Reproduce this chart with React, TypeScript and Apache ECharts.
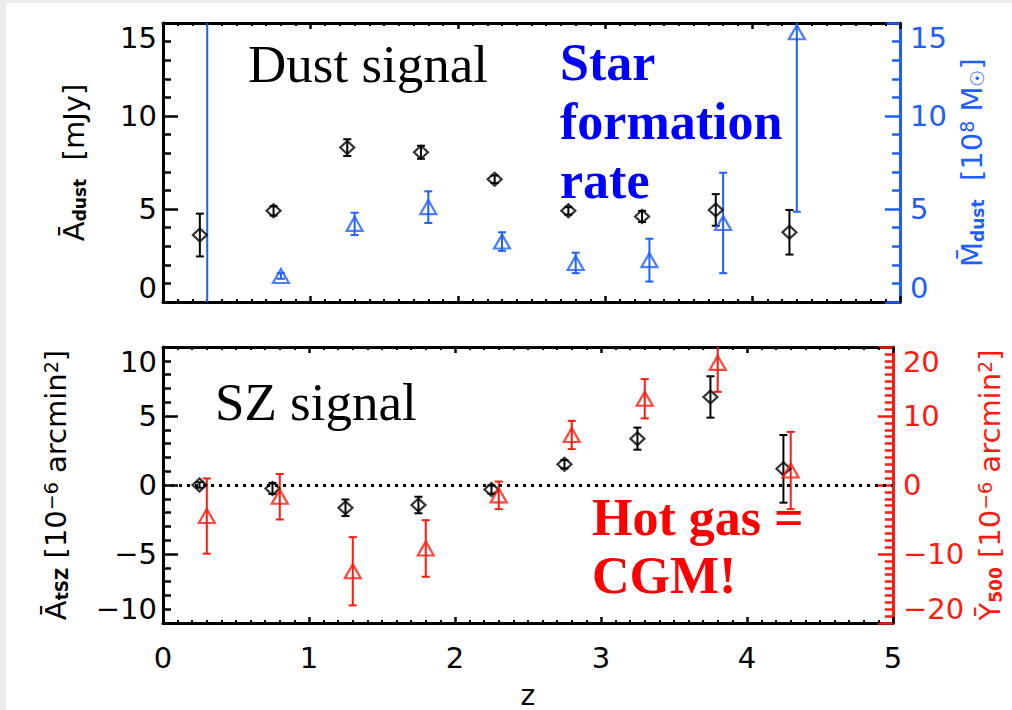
import React, { useEffect, useRef } from 'react';
import * as echarts from 'echarts';

// ---- data ----
const zBlack = [0.25, 0.75, 1.25, 1.75, 2.25, 2.75, 3.25, 3.75, 4.25];
const zColor = [0.3, 0.8, 1.3, 1.8, 2.3, 2.8, 3.3, 3.8, 4.3];

// top panel: dust amplitude [mJy] (left axis) and dust mass [1e8 Msun] (right axis)
const dustAmp = [3.6, 4.9, 8.3, 8.05, 6.6, 4.9, 4.6, 4.95, 3.75];
const dustAmpErr = [1.15, 0.25, 0.45, 0.35, 0.2, 0.2, 0.3, 0.85, 1.2];
const dustMass = [20, 1.4, 4.2, 5.1, 3.25, 2.1, 2.25, 4.25, 14.5];
const dustMassErr = [40, 0.15, 0.6, 0.85, 0.5, 0.55, 1.15, 2.7, 9.65];

// bottom panel: tSZ amplitude [1e-6 arcmin^2] (left) and Y500 [1e-6 arcmin^2] (right)
const szAmp = [0.0, -0.25, -1.65, -1.45, -0.33, 1.5, 3.36, 6.38, 1.17];
const szAmpErr = [0.2, 0.4, 0.6, 0.6, 0.3, 0.3, 0.8, 1.5, 2.45];
const y500 = [-4.5, -1.7, -12.5, -9.2, -1.5, 7.25, 12.5, 17.7, 2.1];
const y500Err = [5.45, 3.3, 4.95, 4.1, 2.0, 2.05, 2.85, 4.2, 5.6];

const xTicks = [0, 1, 2, 3, 4, 5];

const BLACK = '#000000';
const BLUE = '#1f5fff';
const RED = '#ff1a10';
const SANS = '"DejaVu Sans", sans-serif';

const fmt = (v: number) => (v < 0 ? '\u2212' + String(-v) : String(v));

function errorBar(color: string) {
  return (params: any, api: any) => {
    const x = api.value(0);
    const y = api.value(1);
    const e = api.value(2);
    const cs = params.coordSys;
    const hi = api.coord([x, y + e]);
    const lo = api.coord([x, y - e]);
    const top = cs.y;
    const bottom = cs.y + cs.height;
    const y1 = Math.max(hi[1], top);
    const y2 = Math.min(lo[1], bottom);
    const children: any[] = [];
    const st = { stroke: color, lineWidth: 2 };
    if (y2 > y1) {
      children.push({ type: 'line', shape: { x1: hi[0], y1, x2: hi[0], y2 }, style: st });
    }
    const cap = 4;
    if (hi[1] >= top && hi[1] <= bottom) {
      children.push({ type: 'line', shape: { x1: hi[0] - cap, y1: hi[1], x2: hi[0] + cap, y2: hi[1] }, style: st });
    }
    if (lo[1] >= top && lo[1] <= bottom) {
      children.push({ type: 'line', shape: { x1: lo[0] - cap, y1: lo[1], x2: lo[0] + cap, y2: lo[1] }, style: st });
    }
    return { type: 'group', children };
  };
}

const zip3 = (xs: number[], ys: number[], es: number[]) => xs.map((x, i) => [x, ys[i], es[i]]);
const zip2 = (xs: number[], ys: number[]) => xs.map((x, i) => [x, ys[i]]);

function xAxisDef(gridIndex: number, position: string, showLabels: boolean, name?: string) {
  return {
    type: 'value',
    gridIndex,
    position,
    min: xTicks[0],
    max: xTicks[xTicks.length - 1],
    interval: 1,
    name: name || '',
    nameLocation: 'middle',
    nameGap: 58,
    nameTextStyle: { fontFamily: SANS, fontSize: 28, color: BLACK },
    axisLine: { show: true, onZero: false, lineStyle: { color: BLACK, width: 3 } },
    axisTick: { show: true, inside: true, length: 6, lineStyle: { color: BLACK, width: 2.5 } },
    minorTick: { show: true, splitNumber: 10, length: 3, lineStyle: { color: BLACK, width: 2 } },
    axisLabel: { show: showLabels, margin: 20, fontFamily: SANS, fontSize: 29, color: BLACK, formatter: fmt },
    splitLine: { show: false },
    minorSplitLine: { show: false },
  };
}

function yAxisDef(
  gridIndex: number,
  position: string,
  min: number,
  max: number,
  interval: number,
  minorSplit: number,
  color: string,
  name: string,
  nameGap: number,
  rich: any
) {
  return {
    type: 'value',
    gridIndex,
    position,
    min,
    max,
    interval,
    name,
    nameLocation: 'middle',
    nameRotate: 90,
    nameGap,
    nameTextStyle: { fontFamily: SANS, fontSize: 30, color, rich },
    axisLine: { show: true, onZero: false, lineStyle: { color, width: 3 } },
    axisTick: { show: true, inside: true, length: 15, lineStyle: { color, width: 2.5 } },
    minorTick: { show: true, splitNumber: minorSplit, length: 8, lineStyle: { color, width: 2.5 } },
    axisLabel: {
      margin: position === 'left' ? 6 : 10,
      fontFamily: SANS,
      fontSize: 29,
      color,
      formatter: fmt,
      verticalAlignMinLabel: 'bottom',
      verticalAlignMaxLabel: 'top',
    },
    splitLine: { show: false },
    minorSplitLine: { show: false },
  };
}

function richFor(color: string) {
  return {
    a: { fontFamily: SANS, fontSize: 29, color },
    s: { fontFamily: SANS, fontSize: 17, fontWeight: 'bold', color, verticalAlign: 'bottom' },
    p: { fontFamily: SANS, fontSize: 19, color, verticalAlign: 'top' },
    o: { fontFamily: SANS, fontSize: 19, color, verticalAlign: 'bottom' },
  };
}

export default function App() {
  const ref = useRef<HTMLDivElement>(null);

  useEffect(() => {
    if (!ref.current) return;
    const chart = echarts.init(ref.current, undefined, { renderer: 'svg' });

    const option: any = {
      animation: false,
      backgroundColor: '#ffffff',
      grid: [
        { left: 163, top: 23, width: 737, height: 279, show: false },
        { left: 163, top: 347, width: 737, height: 280, show: false },
      ],
      xAxis: [
        xAxisDef(0, 'bottom', false),
        xAxisDef(0, 'top', false),
        xAxisDef(1, 'bottom', true, 'z'),
        xAxisDef(1, 'top', false),
      ],
      yAxis: [
        yAxisDef(0, 'left', 0, 15, 5, 5, BLACK, '{a|\u0100}{s|dust}{a|  [mJy]}', 75, richFor(BLACK)),
        yAxisDef(0, 'right', 0, 15, 5, 5, BLUE, '{a|M\u0304}{s|dust}{a|  [10}{p|8}{a| M}{o|\u2609}{a|]}', 52, richFor(BLUE)),
        yAxisDef(1, 'left', -10, 10, 5, 5, BLACK, '{a|\u0100}{s|tSZ}{a| [10}{p|\u22126}{a| arcmin}{p|2}{a|]}', 93, richFor(BLACK)),
        yAxisDef(1, 'right', -20, 20, 10, 10, RED, '{a|\u0232}{s|500}{a| [10}{p|\u22126}{a| arcmin}{p|2}{a|]}', 78, richFor(RED)),
      ],
      graphic: [
        { type: 'rect', left: 0, top: 0, shape: { width: 1012, height: 3 }, style: { fill: '#ececec' }, silent: true },
        { type: 'rect', left: 0, top: 0, shape: { width: 6, height: 710 }, style: { fill: '#ececec' }, silent: true },
        { type: 'text', x: 248, y: 64, style: { text: 'Dust signal', font: '53px "Liberation Serif"', fill: BLACK, align: 'left', verticalAlign: 'middle' } },
        { type: 'text', x: 560, y: 62, style: { text: 'Star', font: 'bold 52px "Liberation Serif"', fill: '#0000ff', align: 'left', verticalAlign: 'middle' } },
        { type: 'text', x: 560, y: 121, style: { text: 'formation', font: 'bold 52px "Liberation Serif"', fill: '#0000ff', align: 'left', verticalAlign: 'middle' } },
        { type: 'text', x: 560, y: 180, style: { text: 'rate', font: 'bold 52px "Liberation Serif"', fill: '#0000ff', align: 'left', verticalAlign: 'middle' } },
        { type: 'text', x: 215, y: 402, style: { text: 'SZ signal', font: '53px "Liberation Serif"', fill: BLACK, align: 'left', verticalAlign: 'middle' } },
        { type: 'text', x: 592, y: 517, style: { text: 'Hot gas =', font: 'bold 52px "Liberation Serif"', fill: '#ff0000', align: 'left', verticalAlign: 'middle' } },
        { type: 'text', x: 592, y: 575, style: { text: 'CGM!', font: 'bold 52px "Liberation Serif"', fill: '#ff0000', align: 'left', verticalAlign: 'middle' } },
      ],
      series: [
        // top panel
        {
          type: 'custom', xAxisIndex: 0, yAxisIndex: 0, renderItem: errorBar(BLACK),
          data: zip3(zBlack, dustAmp, dustAmpErr), encode: { x: 0, y: 1 }, z: 3,
        },
        {
          type: 'scatter', xAxisIndex: 0, yAxisIndex: 0, symbol: 'diamond', symbolSize: [14, 13], clip: true,
          itemStyle: { color: 'rgba(0,0,0,0)', borderColor: BLACK, borderWidth: 2.2 },
          data: zip2(zBlack, dustAmp), z: 4,
        },
        {
          type: 'custom', xAxisIndex: 0, yAxisIndex: 1, renderItem: errorBar(BLUE),
          data: zip3(zColor, dustMass, dustMassErr), encode: { x: 0, y: 1 }, z: 3,
        },
        {
          type: 'scatter', xAxisIndex: 0, yAxisIndex: 1, symbol: 'triangle', symbolSize: [16, 14], clip: true,
          itemStyle: { color: 'rgba(0,0,0,0)', borderColor: BLUE, borderWidth: 2.2 },
          data: zip2(zColor, dustMass), z: 4,
        },
        // bottom panel
        {
          type: 'custom', xAxisIndex: 2, yAxisIndex: 2, renderItem: errorBar(BLACK),
          data: zip3(zBlack, szAmp, szAmpErr), encode: { x: 0, y: 1 }, z: 3,
        },
        {
          type: 'scatter', xAxisIndex: 2, yAxisIndex: 2, symbol: 'diamond', symbolSize: [14, 13], clip: true,
          itemStyle: { color: 'rgba(0,0,0,0)', borderColor: BLACK, borderWidth: 2.2 },
          data: zip2(zBlack, szAmp), z: 4,
          markLine: {
            silent: true, symbol: 'none', label: { show: false },
            lineStyle: { type: [3, 5], color: BLACK, width: 3 },
            data: [{ yAxis: 0 }],
          },
        },
        {
          type: 'custom', xAxisIndex: 2, yAxisIndex: 3, renderItem: errorBar(RED),
          data: zip3(zColor, y500, y500Err), encode: { x: 0, y: 1 }, z: 3,
        },
        {
          type: 'scatter', xAxisIndex: 2, yAxisIndex: 3, symbol: 'triangle', symbolSize: [16, 14], clip: true,
          itemStyle: { color: 'rgba(0,0,0,0)', borderColor: RED, borderWidth: 2.2 },
          data: zip2(zColor, y500), z: 4,
        },
      ],
    };

    chart.setOption(option);
    return () => chart.dispose();
  }, []);

  return (
    <div
      ref={ref}
      style={{ position: 'fixed', left: 0, top: 0, width: 1012, height: 710, background: '#fff' }}
    />
  );
}
